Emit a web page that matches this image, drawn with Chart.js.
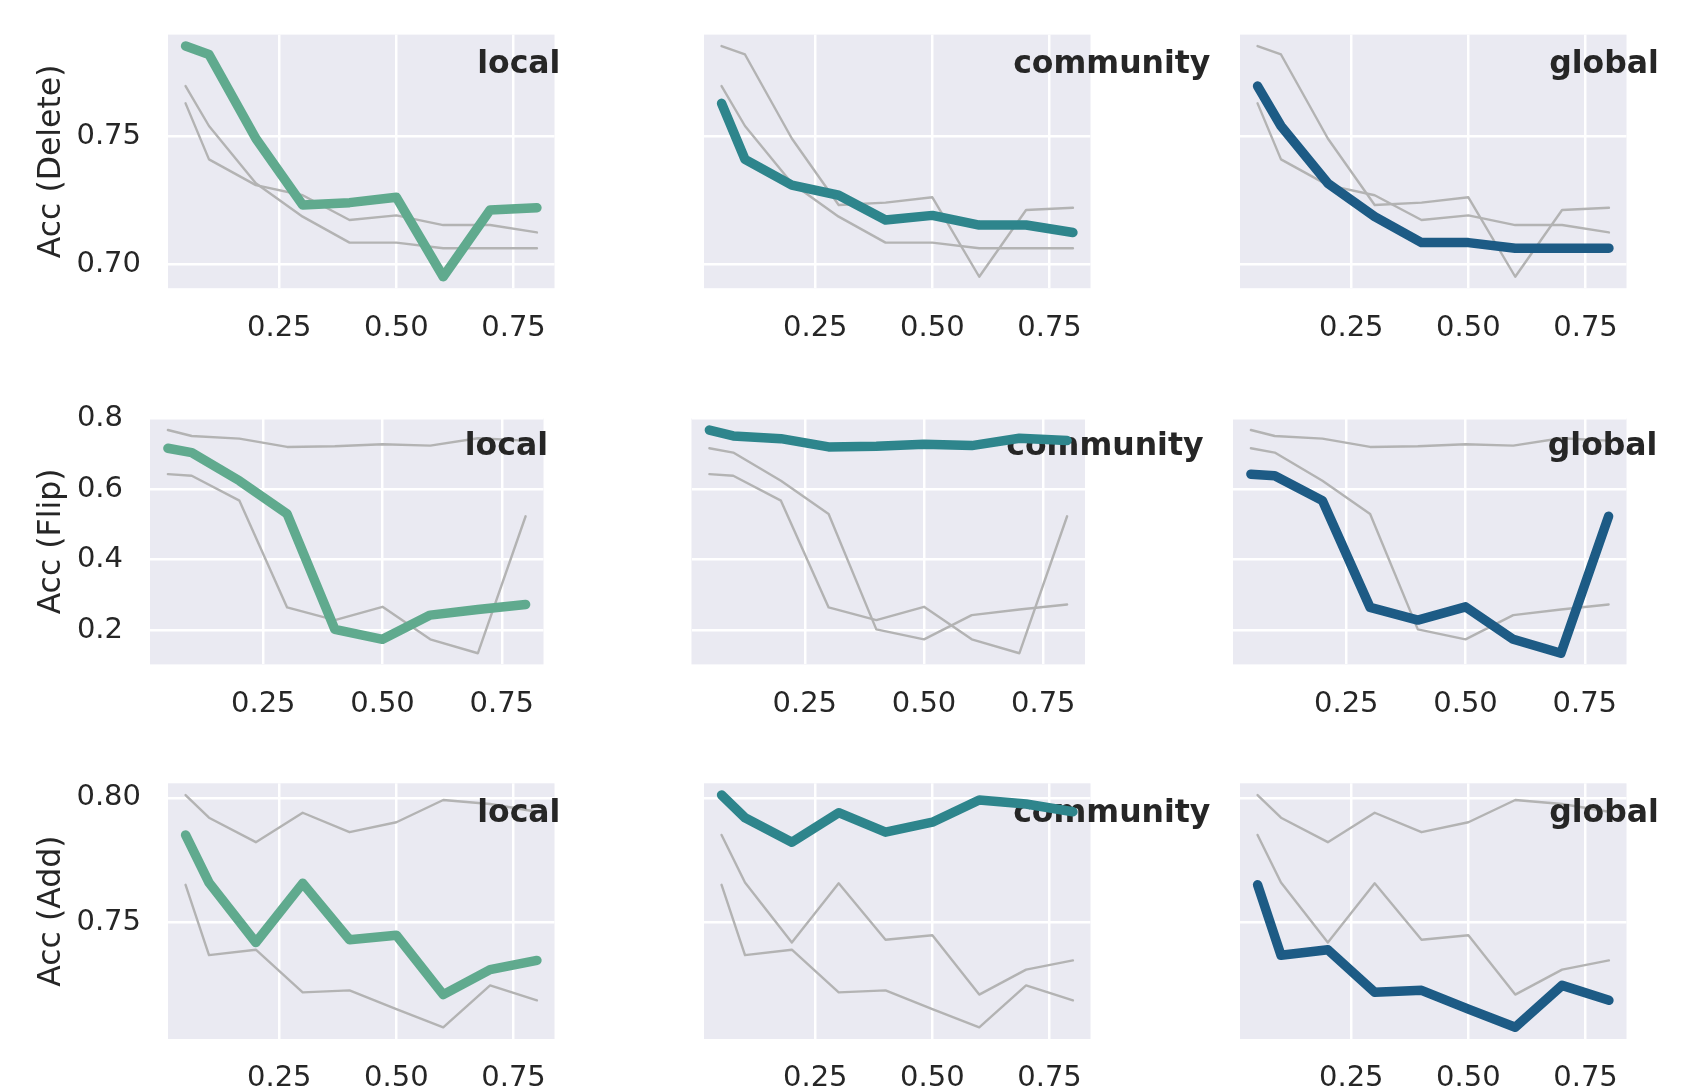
<!DOCTYPE html>
<html><head><meta charset="utf-8">
<script src="https://cdn.jsdelivr.net/npm/chart.js@4.4.1/dist/chart.umd.min.js"></script>
<style>
html,body{margin:0;padding:0;background:#fff;overflow:hidden;width:1688px;height:1090px;position:relative}
canvas{position:absolute}
</style></head><body>
<script>
// ---------- data ----------
const xValues = [0.05, 0.1, 0.2, 0.3, 0.4, 0.5, 0.6, 0.7, 0.8];
const methods = ['local', 'community', 'global'];
const rowLabels = ['Acc (Delete)', 'Acc (Flip)', 'Acc (Add)'];

const deleteLocal     = [0.7856, 0.7823, 0.7493, 0.7232, 0.7241, 0.7262, 0.6950, 0.7212, 0.7221];
const deleteCommunity = [0.7631, 0.7411, 0.7310, 0.7270, 0.7173, 0.7191, 0.7153, 0.7153, 0.7124];
const deleteGlobal    = [0.7699, 0.7542, 0.7317, 0.7186, 0.7084, 0.7084, 0.7062, 0.7062, 0.7062];

const flipLocal     = [0.7157, 0.7035, 0.6235, 0.5294, 0.2019, 0.1737, 0.2424, 0.2584, 0.2725];
const flipCommunity = [0.7675, 0.7506, 0.7430, 0.7195, 0.7214, 0.7270, 0.7233, 0.7440, 0.7375];
const flipGlobal    = [0.6423, 0.6376, 0.5671, 0.2641, 0.2283, 0.2659, 0.1737, 0.1342, 0.5228];

const addLocal     = [0.7851, 0.7660, 0.7420, 0.7657, 0.7431, 0.7449, 0.7211, 0.7311, 0.7348];
const addCommunity = [0.8011, 0.7920, 0.7822, 0.7940, 0.7862, 0.7902, 0.7991, 0.7975, 0.7944];
const addGlobal    = [0.7651, 0.7369, 0.7391, 0.7220, 0.7228, 0.7153, 0.7080, 0.7248, 0.7188];

const yTicksDelete = [0.70, 0.75];
const yTicksFlip   = [0.2, 0.4, 0.6, 0.8];
const yTicksAdd    = [0.75, 0.80];
const xTicks = [0.25, 0.50, 0.75];

const rowsData = [
  [deleteLocal, deleteCommunity, deleteGlobal],
  [flipLocal, flipCommunity, flipGlobal],
  [addLocal, addCommunity, addGlobal]
];
const rowsTicks = [yTicksDelete, yTicksFlip, yTicksAdd];
const tickDecimals = [2, 1, 2];
const yLimits = [[0.6905, 0.7901], [0.1025, 0.8002], [0.7033, 0.8058]];
const xLimits = [0.0125, 0.8375];

// ---------- style / layout ----------
const methodColors = ['#60aa8e', '#2e858c', '#1d5b85'];
const grayColor = '#b3b3b3';
const textColor = '#262626';
const FONT = 'DejaVu Sans';
const TICK_SIZE = 29;
const LABEL_SIZE = 31.5;
const rowGeom = [
  {top: 34.6, bottom: 288.2, lefts: [168, 704, 1240], width: 386.5},
  {top: 418.5, bottom: 664.4, lefts: [150, 691.5, 1233], width: 393.5},
  {top: 783.3, bottom: 1039, lefts: [168, 704, 1240], width: 386.5}
];

const bgPlugin = {
  id: 'panelBg',
  beforeDraw(chart) {
    const a = chart.chartArea, ctx = chart.ctx;
    ctx.save();
    ctx.fillStyle = '#EAEAF2';
    ctx.fillRect(a.left, a.top, a.right - a.left, a.bottom - a.top);
    ctx.restore();
  }
};
const labelPlugin = {
  id: 'panelLabel',
  beforeDatasetDraw(chart, args, opts) {
    if (args.index !== 0) return;
    const a = chart.chartArea, ctx = chart.ctx;
    ctx.save();
    ctx.font = 'bold ' + LABEL_SIZE + 'px "' + FONT + '"';
    ctx.fillStyle = textColor;
    ctx.textAlign = 'left';
    ctx.textBaseline = 'alphabetic';
    ctx.fillText(opts.text, a.left + 0.8 * (a.right - a.left), a.bottom - 0.85 * (a.bottom - a.top));
    ctx.restore();
  }
};

for (let r = 0; r < 3; r++) {
  const g = rowGeom[r];
  for (let c = 0; c < 3; c++) {
    const plotLeft = g.lefts[c];
    const plotRight = plotLeft + g.width;
    const cl = c === 0 ? 0 : Math.floor(plotLeft) - 10;
    const ct = Math.floor(g.top) - 60;
    const cw = Math.ceil(plotRight) + 140 - cl;
    const ch = Math.min(1090, Math.ceil(g.bottom) + 55) - ct;
    const leftW = plotLeft - cl;
    const topPad = g.top - ct;
    const rightPad = cl + cw - plotRight;
    const bottomH = ct + ch - g.bottom;

    const cv = document.createElement('canvas');
    cv.width = cw; cv.height = ch;
    cv.style.left = cl + 'px'; cv.style.top = ct + 'px';
    cv.style.width = cw + 'px'; cv.style.height = ch + 'px';
    document.body.appendChild(cv);

    const datasets = [];
    datasets.push({
      data: xValues.map((x, i) => ({x: x, y: rowsData[r][c][i]})),
      borderColor: methodColors[c], borderWidth: 9.5, order: 0
    });
    for (let k = 0; k < 3; k++) {
      if (k === c) continue;
      datasets.push({
        data: xValues.map((x, i) => ({x: x, y: rowsData[r][k][i]})),
        borderColor: grayColor, borderWidth: 2.4, order: 1
      });
    }
    datasets.forEach(d => {
      d.pointRadius = 0; d.tension = 0; d.fill = false;
      d.borderCapStyle = 'round'; d.borderJoinStyle = 'round';
    });

    const yt = rowsTicks[r], dec = tickDecimals[r];
    new Chart(cv, {
      type: 'line',
      data: {datasets: datasets},
      plugins: [bgPlugin, labelPlugin],
      options: {
        responsive: false, animation: false, devicePixelRatio: 1,
        layout: {padding: {top: topPad, right: rightPad, left: 0, bottom: 0}},
        plugins: {legend: {display: false}, tooltip: {enabled: false}, panelLabel: {text: methods[c]}},
        scales: {
          x: {
            type: 'linear', min: xLimits[0], max: xLimits[1],
            afterBuildTicks: s => { s.ticks = xTicks.map(v => ({value: v})); },
            afterFit: s => { s.height = bottomH; },
            grid: {color: '#ffffff', lineWidth: 2.5, drawTicks: false},
            border: {display: false},
            ticks: {
              color: textColor, font: {family: FONT, size: TICK_SIZE}, padding: 22.5,
              maxRotation: 0, autoSkip: false,
              callback: v => Number(v).toFixed(2)
            }
          },
          y: {
            type: 'linear', min: yLimits[r][0], max: yLimits[r][1],
            afterBuildTicks: s => { s.ticks = yt.map(v => ({value: v})); },
            afterFit: s => { s.width = leftW; },
            grid: {color: '#ffffff', lineWidth: 2.5, drawTicks: false},
            border: {display: false},
            title: {
              display: c === 0, text: rowLabels[r], color: textColor,
              font: {family: FONT, size: LABEL_SIZE}, padding: {top: 33, bottom: 0}
            },
            ticks: {
              display: c === 0, color: textColor, font: {family: FONT, size: TICK_SIZE}, padding: 27,
              callback: v => Number(v).toFixed(dec)
            }
          }
        }
      }
    });
  }
}
</script>
</body></html>
